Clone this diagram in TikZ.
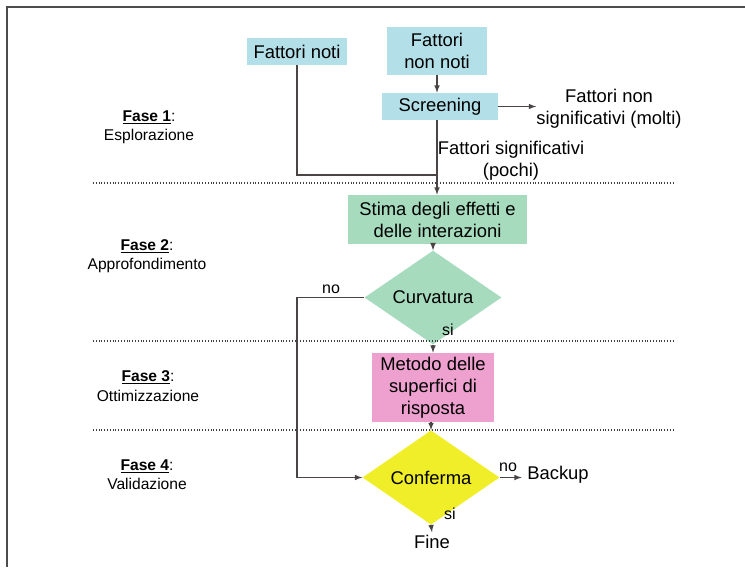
\documentclass[tikz,border=0pt]{standalone}
\usepackage{fontspec}
\setmainfont{Liberation Sans}
\usetikzlibrary{shapes.geometric}
\definecolor{boxblue}{RGB}{178,223,232}
\definecolor{boxgreen}{RGB}{166,219,190}
\definecolor{boxpink}{RGB}{238,160,207}
\definecolor{boxyellow}{RGB}{240,238,40}
\definecolor{linegray}{RGB}{75,68,68}
\begin{document}
\begin{tikzpicture}[x=0.75pt,y=-0.75pt,>=latex,
  font=\fontsize{13.8}{16.5}\selectfont,
  box/.style={rectangle,inner sep=0pt,align=center},
  dia/.style={diamond,inner sep=0pt,minimum width=102.75pt,minimum height=53.25pt},
  lbl/.style={inner sep=0pt,align=center},
  fase/.style={inner sep=0pt,align=center,font=\fontsize{11.7}{14.5}\selectfont},
  conn/.style={draw=linegray,line width=0.9pt},
  arr/.style={conn,->},
  sep/.style={draw=black!75,line width=1.8pt,dash pattern=on 0.8pt off 1.3pt}]
  \useasboundingbox (0,0) rectangle (745,567);
  \draw[black!70,line width=1.6pt] (7,567) -- (7,7) -- (745,7);
  \node[box,fill=boxblue,minimum width=75pt,minimum height=20.25pt] (noti) at (297,51.5) {Fattori noti};
  \node[box,fill=boxblue,minimum width=75pt,minimum height=36pt] (nonnoti) at (437,51) {Fattori\\non noti};
  \node[box,fill=boxblue,minimum width=87pt,minimum height=20.25pt] (screen) at (440,106.5) {Screening};
  \node[lbl] (nonsig) at (609,108.5) {Fattori non\\significativi (molti)};
  \node[lbl] (sig) at (511,161) {Fattori significativi\\(pochi)};
  \node[box,fill=boxgreen,minimum width=134.25pt,minimum height=36.75pt] (stima) at (437.5,219.5) {Stima degli effetti e\\delle interazioni};
  \node[dia,fill=boxgreen] (curv) at (433,297.5) {Curvatura};
  \node[box,fill=boxpink,minimum width=91.5pt,minimum height=51.75pt] (metodo) at (433,387.5) {Metodo delle\\superfici di\\risposta};
  \node[dia,fill=boxyellow] (conf) at (431,477.5) {Conferma};
  \node[lbl] (backup) at (558,475) {Backup};
  \node[lbl] (fine) at (432,542) {Fine};
  \node[lbl,font=\fontsize{12}{14}\selectfont] (curvno) at (331,289) {no};
  \node[lbl,font=\fontsize{12}{14}\selectfont] (curvsi) at (448,330) {si};
  \node[lbl,font=\fontsize{12}{14}\selectfont] (confno) at (508,467) {no};
  \node[lbl,font=\fontsize{12}{14}\selectfont] (confsi) at (450,514) {si};
  \node[fase] (f1) at (149,127) {\underline{\textbf{Fase 1}}:\\Esplorazione};
  \node[fase] (f2) at (147,256) {\underline{\textbf{Fase 2}}:\\Approfondimento};
  \node[fase] (f3) at (148,386) {\underline{\textbf{Fase 3}}:\\Ottimizzazione};
  \node[fase] (f4) at (147,475) {\underline{\textbf{Fase 4}}:\\Validazione};
  \draw[sep] (93,183) -- (673,183);
  \draw[sep] (93,341) -- (673,341);
  \draw[sep] (93,430) -- (673,430);
  \coordinate (join) at (437,175);
  \coordinate (loop) at (297,297.5);
  \draw[arr] (nonnoti.south) -- (nonnoti.south |- screen.north);
  \draw[arr] (screen.east) -- (screen.east -| nonsig.west);
  \draw[arr] (nonnoti.south |- screen.south) -- (nonnoti.south |- stima.north);
  \draw[conn] (noti.south) |- (join);
  \draw[arr] (stima.south -| curv.north) -- (curv.north);
  \draw[arr] (curv.south) -- (metodo.north);
  \draw[arr] (curv.west) -- (loop) |- (conf.west);
  \draw[arr] (metodo.south -| conf.north) -- (conf.north);
  \draw[arr] (conf.east) -- ([xshift=-4pt]conf.east -| backup.west);
  \draw[arr] (conf.south) -- ([yshift=2pt]fine.north);
\end{tikzpicture}
\end{document}
